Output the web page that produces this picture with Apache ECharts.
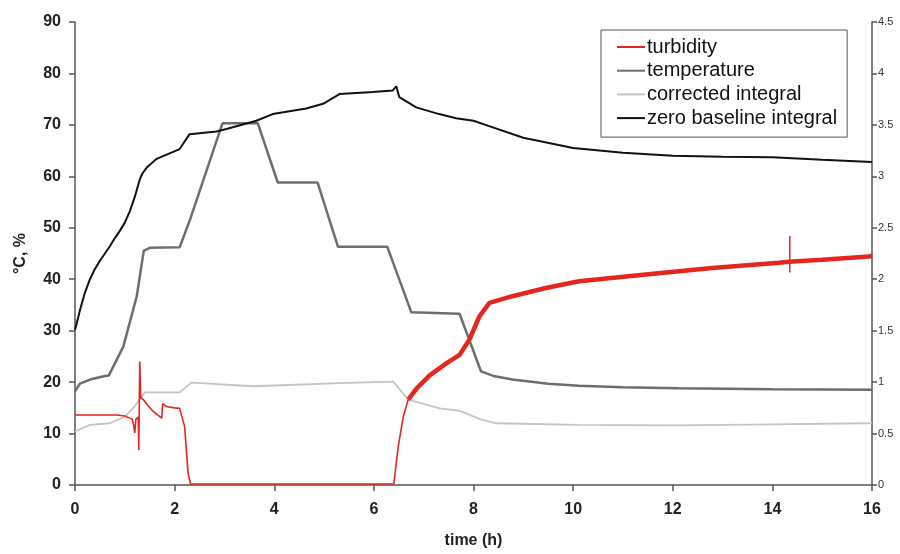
<!DOCTYPE html>
<html>
<head>
<meta charset="utf-8">
<script src="https://cdn.jsdelivr.net/npm/echarts@6/dist/echarts.min.js"></script>
<style>html,body{margin:0;padding:0;background:#fff}#c{width:900px;height:554px}</style>
</head>
<body>
<div id="c"></div>
<script>
// time (h), value pairs
var seriesNames = ['turbidity', 'temperature', 'corrected integral', 'zero baseline integral'];
var xTicks = [0, 2, 4, 6, 8, 10, 12, 14, 16];
var leftTicks = [0, 10, 20, 30, 40, 50, 60, 70, 80, 90];
var rightTicks = [0, 0.5, 1, 1.5, 2, 2.5, 3, 3.5, 4, 4.5];

// temperature (°C, left axis)
var temperature = [[0,18.2],[0.1,19.7],[0.3,20.5],[0.6,21.2],[0.68,21.3],[0.97,26.9],[1.24,36.7],[1.38,45.5],[1.5,46.1],[2.1,46.2],[2.31,51.6],[2.96,70.3],[3.67,70.3],[4.07,58.8],[4.87,58.8],[5.28,46.3],[6.27,46.3],[6.75,33.6],[7.72,33.3],[8.15,22.1],[8.4,21.2],[8.78,20.5],[9.5,19.7],[10.12,19.3],[11,19.0],[12.12,18.8],[14,18.6],[16,18.5]];

// turbidity (%, left axis) – early part (thin trace)
var turbidityEarly = [[0,13.6],[0.84,13.6],[1.0,13.4],[1.1,13.0],[1.15,12.8],[1.18,11.5],[1.2,10.1],[1.22,12.7],[1.27,13.2],[1.28,6.8],[1.3,24],[1.32,17],[1.37,16.6],[1.45,15.6],[1.57,14.3],[1.74,13.0],[1.76,15.8],[1.85,15.2],[2.0,15.0],[2.1,14.9],[2.2,11.4],[2.27,2.3],[2.32,0.2],[6.40,0.2],[6.49,7.5],[6.59,13.3],[6.69,16.6]];
// turbidity – late part (noisy, broad trace)
var turbidityLate = [[6.69,16.6],[6.86,18.8],[7.12,21.3],[7.46,23.7],[7.72,25.3],[7.92,28.3],[8.12,32.8],[8.32,35.4],[8.78,36.7],[9.45,38.3],[10.12,39.6],[11.46,40.9],[12.79,42.2],[14.13,43.2],[14.34,43.4],[15.0,43.8],[15.93,44.4],[16,44.5]];
// turbidity – single spike near 14.35 h
var turbiditySpike = [[14.35,41.3],[14.35,48.4]];

// corrected integral (right axis)
var correctedIntegral = [[0,0.52],[0.3,0.585],[0.7,0.60],[1.0,0.665],[1.2,0.765],[1.4,0.90],[2.1,0.90],[2.34,0.995],[3.58,0.96],[5.32,0.99],[6.39,1.005],[6.69,0.83],[7.32,0.745],[7.73,0.72],[8.13,0.64],[8.45,0.60],[10.12,0.585],[12,0.58],[14,0.59],[15.93,0.60],[16,0.60]];

// zero baseline integral (right axis)
var zeroBaselineIntegral = [[0,1.51],[0.05,1.60],[0.1,1.70],[0.2,1.87],[0.3,2.00],[0.4,2.10],[0.5,2.18],[0.6,2.25],[0.7,2.32],[0.8,2.40],[0.9,2.47],[1.0,2.55],[1.1,2.66],[1.2,2.80],[1.3,2.97],[1.35,3.025],[1.44,3.085],[1.64,3.17],[2.1,3.265],[2.3,3.41],[2.84,3.435],[3.04,3.46],[3.64,3.54],[3.97,3.605],[4.64,3.66],[4.98,3.705],[5.31,3.80],[5.98,3.82],[6.38,3.835],[6.45,3.875],[6.51,3.77],[6.85,3.67],[7.31,3.605],[7.65,3.565],[8.0,3.54],[8.3,3.49],[9,3.375],[10,3.275],[11,3.23],[12,3.20],[13,3.19],[14,3.185],[15,3.16],[16,3.14]];

var FONT = 'Liberation Sans, Arial, sans-serif';
var axisLineStyle = {color:'#555', width:1.5};
var RED = '#e5261e';

var chart = echarts.init(document.getElementById('c'), null, {renderer:'canvas'});
chart.setOption({
  animation:false,
  backgroundColor:'#fff',
  grid:{left:75, right:28, top:22, bottom:69, containLabel:false},
  legend:{
    orient:'vertical', left:601, top:30,
    data:seriesNames, icon:'rect',
    backgroundColor:'#fff', borderColor:'#555', borderWidth:1,
    padding:[6,10,8,16], itemWidth:28, itemHeight:2, itemGap:1.7,
    textStyle:{fontFamily:FONT, fontSize:20, color:'#111', padding:[0,0,0,-3], lineHeight:22}
  },
  xAxis:{
    type:'value', min:xTicks[0], max:xTicks[xTicks.length-1], interval:2,
    name:'time (h)', nameLocation:'middle', nameGap:48,
    nameTextStyle:{fontFamily:FONT, fontSize:16, fontWeight:'bold', color:'#222'},
    axisLine:{show:true, lineStyle:axisLineStyle},
    axisTick:{show:true, length:6, lineStyle:axisLineStyle},
    axisLabel:{fontFamily:FONT, fontSize:16, fontWeight:'bold', color:'#222', margin:17},
    splitLine:{show:false}
  },
  yAxis:[{
    type:'value', min:leftTicks[0], max:leftTicks[leftTicks.length-1], interval:10,
    name:'°C, %', nameLocation:'middle', nameGap:46, nameRotate:90,
    nameTextStyle:{fontFamily:FONT, fontSize:16, fontWeight:'bold', color:'#222'},
    axisLine:{show:true, lineStyle:axisLineStyle},
    axisTick:{show:true, length:6, lineStyle:axisLineStyle},
    axisLabel:{fontFamily:FONT, fontSize:16, fontWeight:'bold', color:'#222', margin:14},
    splitLine:{show:false}
  },{
    type:'value', position:'right', min:rightTicks[0], max:rightTicks[rightTicks.length-1], interval:0.5,
    axisLine:{show:true, lineStyle:axisLineStyle},
    axisTick:{show:true, length:5, lineStyle:axisLineStyle},
    axisLabel:{fontFamily:FONT, fontSize:11, color:'#333', margin:6,
      formatter:function(v){return String(v);}},
    splitLine:{show:false}
  }],
  series:[
    {name:seriesNames[1], type:'line', yAxisIndex:0, data:temperature, symbol:'none', smooth:false,
      lineStyle:{color:'#6d6d6d', width:2.5}, itemStyle:{color:'#6d6d6d'}, z:2},
    {name:seriesNames[2], type:'line', yAxisIndex:1, data:correctedIntegral, symbol:'none',
      lineStyle:{color:'#c4c4c4', width:1.8}, itemStyle:{color:'#c4c4c4'}, z:2},
    {name:seriesNames[3], type:'line', yAxisIndex:1, data:zeroBaselineIntegral, symbol:'none',
      lineStyle:{color:'#111', width:2}, itemStyle:{color:'#111'}, z:2},
    {name:seriesNames[0], type:'line', yAxisIndex:0, data:turbidityEarly, symbol:'none',
      lineStyle:{color:RED, width:1.6}, itemStyle:{color:RED}, z:3},
    {name:seriesNames[0], type:'line', yAxisIndex:0, data:turbidityLate, symbol:'none',
      lineStyle:{color:RED, width:4.5}, itemStyle:{color:RED}, z:3},
    {name:seriesNames[0], type:'line', yAxisIndex:0, data:turbiditySpike, symbol:'none',
      lineStyle:{color:RED, width:1.5}, itemStyle:{color:RED}, z:3}
  ]
});
</script>
</body>
</html>
